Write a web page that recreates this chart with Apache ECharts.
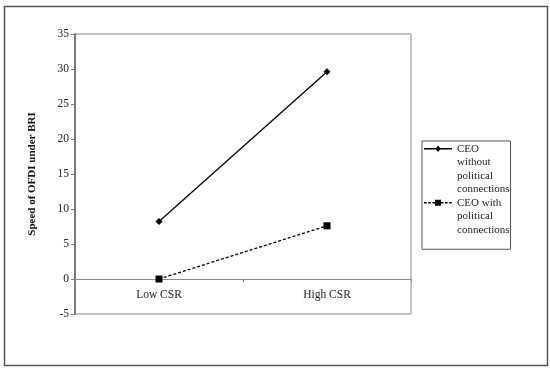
<!DOCTYPE html>
<html><head><meta charset="utf-8">
<script src="https://cdn.jsdelivr.net/npm/echarts@6/dist/echarts.min.js"></script>
<style>html,body{margin:0;padding:0;background:#fff}#c{width:550px;height:371px}</style>
</head><body><div id="c"></div>
<script>
const categories = ['Low CSR', 'High CSR'];
const seriesNames = ['CEO without political connections', 'CEO with political connections'];
const legendLines = [['CEO', 'without', 'political', 'connections'], ['CEO with', 'political', 'connections']];
const withoutPC = [8.2, 29.6];
const withPC = [0, 7.6];
const yMin = -5, yMax = 35, yStep = 5;
const yTitle = 'Speed of OFDI under BRI';

const FONT = 'Liberation Serif';
const LH = 13.5;
const IW = 28, IH = 4 * LH;

// legend icon: line sample with marker, drawn on the first text line of each item
function iconPath(lineCount, dashed, marker) {
  const blockTop = (IH - lineCount * LH) / 2;
  const cy = blockTop + LH / 2;
  const t = 0.65;
  let p = 'M0 0 M' + IW + ' ' + IH + ' ';
  if (dashed) {
    for (let x = 0; x < IW; x += 4.2) {
      const x2 = Math.min(x + 2.6, IW);
      p += 'M' + x + ' ' + (cy - t) + 'L' + x2 + ' ' + (cy - t) + 'L' + x2 + ' ' + (cy + t) + 'L' + x + ' ' + (cy + t) + 'Z ';
    }
  } else {
    p += 'M0 ' + (cy - t) + 'L' + IW + ' ' + (cy - t) + 'L' + IW + ' ' + (cy + t) + 'L0 ' + (cy + t) + 'Z ';
  }
  const mx = IW / 2;
  if (marker === 'diamond') {
    p += 'M' + mx + ' ' + (cy - 3.3) + 'L' + (mx + 2.6) + ' ' + cy + 'L' + mx + ' ' + (cy + 3.3) + 'L' + (mx - 2.6) + ' ' + cy + 'Z';
  } else {
    p += 'M' + (mx - 3) + ' ' + (cy - 3) + 'L' + (mx + 3) + ' ' + (cy - 3) + 'L' + (mx + 3) + ' ' + (cy + 3) + 'L' + (mx - 3) + ' ' + (cy + 3) + 'Z';
  }
  return 'path://' + p;
}

const chart = echarts.init(document.getElementById('c'));
chart.setOption({
  animation: false,
  backgroundColor: '#fff',
  graphic: [{
    type: 'rect', shape: { x: 4.5, y: 6.5, width: 543, height: 359 },
    style: { fill: 'none', stroke: '#555', lineWidth: 1.5 }, silent: true
  }],
  grid: { left: 75, right: 139, top: 34, bottom: 57, show: true, borderColor: '#8a8a8a', borderWidth: 1 },
  xAxis: {
    type: 'category', data: categories, boundaryGap: true,
    axisLine: { onZero: true, lineStyle: { color: '#8a8a8a', width: 1 } },
    axisTick: { show: true, length: 3, lineStyle: { color: '#8a8a8a' } },
    axisLabel: { color: '#222', fontFamily: FONT, fontSize: 11.5, margin: -25 }
  },
  yAxis: {
    type: 'value', min: yMin, max: yMax, interval: yStep,
    name: yTitle, nameLocation: 'middle', nameGap: 37, nameRotate: 90,
    nameTextStyle: { color: '#111', fontFamily: FONT, fontSize: 11, fontWeight: 'bold' },
    splitLine: { show: false },
    axisLine: { show: true, onZero: false, lineStyle: { color: '#7a7a7a', width: 2 } },
    axisTick: { show: true, length: 4, lineStyle: { color: '#7a7a7a' } },
    axisLabel: { color: '#222', fontFamily: FONT, fontSize: 11.5, margin: 6 }
  },
  legend: {
    orient: 'vertical', left: 422, top: 141,
    padding: [1, 1, 6, 2], itemGap: -LH / 2, itemWidth: IW, itemHeight: IH,
    symbolKeepAspect: false,
    borderColor: '#555', borderWidth: 1,
    textStyle: { color: '#222', fontFamily: FONT, fontSize: 11, lineHeight: LH },
    formatter: function (name) { return legendLines[seriesNames.indexOf(name)].join('\n'); },
    data: [
      { name: seriesNames[0], icon: iconPath(legendLines[0].length, false, 'diamond') },
      { name: seriesNames[1], icon: iconPath(legendLines[1].length, true, 'rect') }
    ]
  },
  series: [
    { name: seriesNames[0], type: 'line', data: withoutPC, symbol: 'diamond', symbolSize: 7,
      itemStyle: { color: '#000' }, lineStyle: { color: '#000', width: 1.3, type: 'solid' } },
    { name: seriesNames[1], type: 'line', data: withPC, symbol: 'rect', symbolSize: 7,
      itemStyle: { color: '#000' }, lineStyle: { color: '#000', width: 1.3, type: [3, 2] } }
  ]
});
</script></body></html>
